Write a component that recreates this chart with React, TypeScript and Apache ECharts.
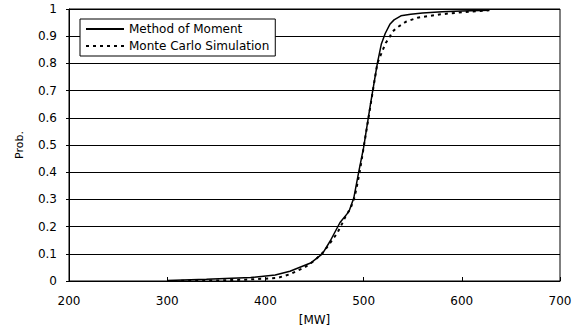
import React, { useEffect, useRef } from "react";
import * as echarts from "echarts";

const momX = [300, 340, 385, 410, 425, 446, 458, 466, 476, 485, 490, 495, 500, 507, 514, 518, 522, 527, 531, 538, 548, 560, 580, 600, 628];
const momY = [0.002, 0.006, 0.013, 0.022, 0.036, 0.066, 0.1, 0.147, 0.215, 0.255, 0.305, 0.4, 0.49, 0.65, 0.8, 0.87, 0.91, 0.945, 0.96, 0.975, 0.981, 0.985, 0.99, 0.993, 0.995];

const mcX = [300, 350, 380, 412, 425, 440, 450, 459.5, 473, 478, 482, 487, 491, 496, 500, 505, 509, 514, 519, 522.5, 526, 529, 533, 543, 555, 577, 600, 628];
const mcY = [0, 0.002, 0.005, 0.011, 0.025, 0.05, 0.075, 0.108, 0.175, 0.21, 0.24, 0.27, 0.31, 0.4, 0.49, 0.6, 0.69, 0.8, 0.845, 0.875, 0.893, 0.915, 0.929, 0.953, 0.968, 0.98, 0.988, 0.995];

const seriesNames = ["Method of Moment", "Monte Carlo Simulation"];
const xName = "[MW]";
const yName = "Prob.";

const FONT = "DejaVu Sans";

export default function App() {
  const ref = useRef<HTMLDivElement>(null);
  useEffect(() => {
    if (!ref.current) return;
    const chart = echarts.init(ref.current, null, { renderer: "svg" });
    chart.setOption({
      animation: false,
      backgroundColor: "#fff",
      textStyle: { fontFamily: FONT, color: "#000" },
      grid: {
        left: 69,
        right: 19,
        top: 9,
        bottom: 48,
        show: true,
        borderColor: "#000",
        borderWidth: 1,
      },
      legend: {
        orient: "vertical",
        left: 80,
        top: 19,
        width: 198,
        padding: [4, 6, 4, 5],
        itemGap: 5,
        itemWidth: 38,
        itemHeight: 12,
        backgroundColor: "#fff",
        borderColor: "#000",
        borderWidth: 1,
        borderRadius: 0,
        itemStyle: { opacity: 0 },
        textStyle: { fontFamily: FONT, fontSize: 12, color: "#000" },
        data: seriesNames,
      },
      xAxis: {
        type: "value",
        min: 200,
        max: 700,
        interval: 100,
        name: xName,
        nameLocation: "middle",
        nameGap: 33,
        nameTextStyle: { fontFamily: FONT, fontSize: 12, color: "#000" },
        axisLine: { show: true, lineStyle: { color: "#000", width: 1 } },
        axisTick: { show: true, inside: true, length: 4, lineStyle: { color: "#000" } },
        axisLabel: { fontFamily: FONT, fontSize: 12, color: "#000", margin: 14 },
        splitLine: { show: false },
      },
      yAxis: {
        type: "value",
        min: 0,
        max: 1,
        interval: 0.1,
        name: yName,
        nameLocation: "middle",
        nameGap: 44,
        nameTextStyle: { fontFamily: FONT, fontSize: 11, color: "#000" },
        axisLine: { show: true, lineStyle: { color: "#000", width: 1 } },
        axisTick: { show: true, inside: false, length: 3, lineStyle: { color: "#000" } },
        axisLabel: { fontFamily: FONT, fontSize: 12, color: "#000", margin: 12 },
        splitLine: { show: true, lineStyle: { color: "#000", width: 1 } },
      },
      series: [
        {
          name: seriesNames[0],
          type: "line",
          symbol: "none",
          smooth: false,
          data: momX.map((x, i) => [x, momY[i]]),
          lineStyle: { color: "#000", width: 1.5, type: "solid" },
          itemStyle: { color: "#000" },
          z: 3,
        },
        {
          name: seriesNames[1],
          type: "line",
          symbol: "none",
          smooth: false,
          data: mcX.map((x, i) => [x, mcY[i]]),
          lineStyle: { color: "#000", width: 2, type: [3, 4] },
          itemStyle: { color: "#000" },
          z: 2,
        },
      ],
    });
    return () => chart.dispose();
  }, []);
  return (
    <div
      ref={ref}
      style={{ position: "fixed", left: 0, top: 0, width: 579, height: 331 }}
    />
  );
}
